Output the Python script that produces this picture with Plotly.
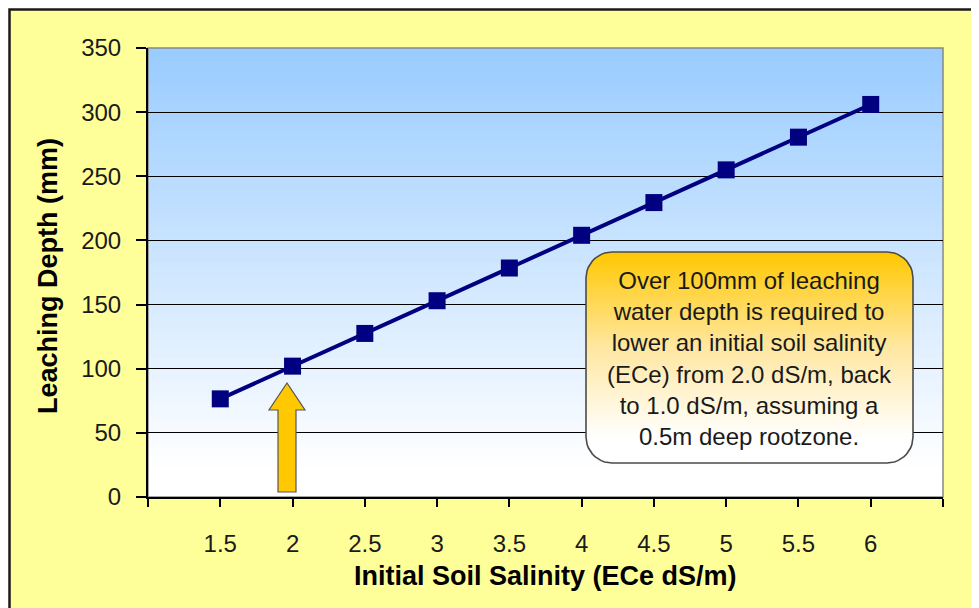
import numpy as np
import plotly.graph_objects as go

# ---- data ----
salinity = [1.5, 2.0, 2.5, 3.0, 3.5, 4.0, 4.5, 5.0, 5.5, 6.0]
leaching_depth = [76.5, 102, 127.5, 153, 178.5, 204, 229.5, 255, 280.5, 306]
x_tickvals = [1.0, 1.5, 2.0, 2.5, 3.0, 3.5, 4.0, 4.5, 5.0, 5.5, 6.0, 6.5]
x_ticktext = ["", "1.5", "2", "2.5", "3", "3.5", "4", "4.5", "5", "5.5", "6", ""]
y_tickvals = [0, 50, 100, 150, 200, 250, 300, 350]
callout_lines = ["Over 100mm of leaching", "water depth is required to",
                 "lower an initial soil salinity", "(ECe) from 2.0 dS/m, back",
                 "to 1.0 dS/m, assuming a", "0.5m deep rootzone."]
x_title = "Initial Soil Salinity (ECe dS/m)"
y_title = "Leaching Depth (mm)"

W, H = 979, 608
OFF = 8  # page body margin offset
def px(x): return (x - OFF) / W
def py(y): return 1 - (y - OFF) / H

PL, PR, PT, PB = 148, 943, 48, 497  # plot area, page pixels
FONT = "Liberation Sans, Arial, sans-serif"

fig = go.Figure()

# main series
fig.add_trace(go.Scatter(
    x=salinity, y=leaching_depth, mode="lines+markers",
    line=dict(color="#000080", width=4),
    marker=dict(symbol="square", size=17, color="#000080"),
    showlegend=False, hoverinfo="skip"))

# callout box (rounded rectangle with vertical gradient) on a pixel overlay axis
bx0, bx1, by0, by1, r = 586, 913, 252, 463, 26
xs, ys = [], []
for cx, cy, a0, a1 in [(bx1 - r, by0 + r, -np.pi / 2, 0), (bx1 - r, by1 - r, 0, np.pi / 2),
                       (bx0 + r, by1 - r, np.pi / 2, np.pi), (bx0 + r, by0 + r, np.pi, 1.5 * np.pi)]:
    t = np.linspace(a0, a1, 12)
    xs += list(cx + r * np.cos(t)); ys += list(cy + r * np.sin(t))
xs.append(xs[0]); ys.append(ys[0])
ys_up = [H + OFF - v for v in ys]
fig.add_trace(go.Scatter(
    x=xs, y=ys_up, xaxis="x2", yaxis="y2", mode="lines", fill="toself",
    fillgradient=dict(type="vertical",
                      colorscale=[[0, "#FFFFFF"], [0.12, "#FFFFFF"], [0.55, "#FFE7A0"], [1, "#FFC800"]]),
    line=dict(color="#4A4A4A", width=1.6), showlegend=False, hoverinfo="skip"))

shapes = []
# outer chart area
shapes.append(dict(type="rect", xref="paper", yref="paper", x0=px(9.5), x1=1.02, y0=-0.02, y1=py(9.5),
                   fillcolor="#FFFF99", line=dict(color="#1A1A1A", width=2.5), layer="below"))
# plot-area gradient (blue top -> white bottom)
n = 90
top = np.array([0x99, 0xCC, 0xFF]); bot = np.array([0xFF, 0xFF, 0xFF])
for i in range(n):
    f = min(1.0, (i + 0.5) / n / 0.93)
    c = top + (bot - top) * f
    shapes.append(dict(type="rect", xref="x domain", yref="y domain", x0=0, x1=1,
                       y0=1 - (i + 1) / n - 0.002, y1=1 - i / n,
                       fillcolor="rgb(%d,%d,%d)" % tuple(c.astype(int)), line=dict(width=0), layer="below"))
# plot-area border
shapes.append(dict(type="rect", xref="x domain", yref="y domain", x0=0, x1=1, y0=0, y1=1,
                   line=dict(color="#888888", width=1.5), layer="below"))
# yellow arrow
ax = [278, 296, 296, 305, 287, 269, 278, 278]
ay = [492, 492, 410, 410, 383, 410, 410, 492]
path = "M " + " L ".join("%f,%f" % (px(a), py(b)) for a, b in zip(ax, ay)) + " Z"
shapes.append(dict(type="path", xref="paper", yref="paper", path=path,
                   fillcolor="#FFC800", line=dict(color="#555555", width=1.2), layer="above"))

annotations = [
    dict(text="<br>".join(callout_lines), xref="paper", yref="paper", x=px(749), y=py(358),
         xanchor="center", yanchor="middle",
         showarrow=False, align="center", font=dict(family=FONT, size=24, color="#1A1A1A")),
    dict(text="<b>%s</b>" % x_title, xref="paper", yref="paper", x=px(545), y=py(576),
         xanchor="center", yanchor="middle",
         showarrow=False, font=dict(family=FONT, size=27, color="#000000")),
    dict(text="<b>%s</b>" % y_title, xref="paper", yref="paper", x=px(48), y=py(276),
         xanchor="center", yanchor="middle",
         showarrow=False, textangle=-90, font=dict(family=FONT, size=27, color="#000000")),
]

fig.update_layout(
    width=W, height=H, margin=dict(l=0, r=0, t=0, b=0, autoexpand=False),
    paper_bgcolor="white", plot_bgcolor="rgba(0,0,0,0)",
    shapes=shapes, annotations=annotations, showlegend=False,
    xaxis=dict(domain=[px(PL), px(PR)], range=[1.0, 6.5], tickvals=x_tickvals, ticktext=x_ticktext,
               ticks="outside", ticklen=8, tickcolor="black", tickwidth=1.5, showgrid=False, zeroline=False,
               showline=True, linecolor="black", linewidth=2, ticklabelstandoff=16, automargin=False,
               tickfont=dict(family=FONT, size=24, color="#1A1A1A"), fixedrange=True),
    yaxis=dict(domain=[py(PB), py(PT)], range=[0, 350], tickvals=y_tickvals,
               ticks="outside", ticklen=10, tickcolor="black", tickwidth=1.5,
               showgrid=True, gridcolor="black", gridwidth=1, zeroline=False,
               showline=True, linecolor="black", linewidth=2, ticklabelstandoff=10, automargin=False,
               tickfont=dict(family=FONT, size=24, color="#1A1A1A"), fixedrange=True),
    xaxis2=dict(domain=[0, 1], range=[OFF, OFF + W], anchor="y2", visible=False, fixedrange=True,
                automargin=False),
    yaxis2=dict(domain=[0, 1], range=[0, H], anchor="x2", visible=False, fixedrange=True,
                automargin=False),
)

fig.write_html("out.html")
